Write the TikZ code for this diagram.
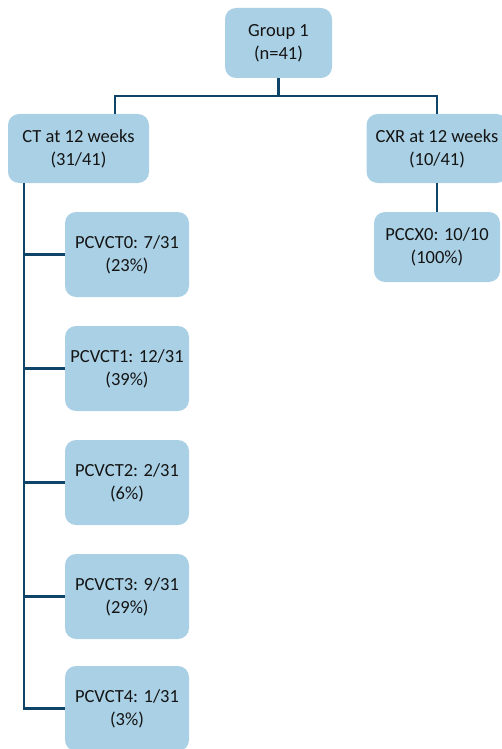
\documentclass[tikz,border=0pt]{standalone}
\usepackage{fontspec}
\setmainfont{Carlito}
\definecolor{boxfill}{HTML}{A9D0E4}
\definecolor{linec}{HTML}{0D4467}
\definecolor{txt}{HTML}{141414}
\begin{document}
\begin{tikzpicture}[x=1pt,y=1pt,
  box/.style={draw=none,fill=boxfill,rounded corners=11pt,align=center,
    text=txt,font=\fontsize{18.5}{23}\selectfont,inner sep=0pt},
  conn/.style={draw=linec,line width=2.6pt}]
\useasboundingbox (0,0) rectangle (502,-749);
\node[box,minimum width=107pt,minimum height=70pt] (g) at (278.5,-43) {Group 1\\(n=41)};
\node[box,minimum width=141pt,minimum height=69pt] (ct) at (78.5,-148.5) {CT at 12 weeks\\(31/41)};
\node[box,minimum width=141pt,minimum height=69pt] (cxr) at (437,-148.5) {CXR at 12 weeks\\(10/41)};
\node[box,minimum width=126pt,minimum height=70pt] (px) at (437,-247) {PCCX0: 10/10\\(100\%)};
\node[box,minimum width=124pt,minimum height=85pt] (p0) at (127,-254.5) {PCVCT0: 7/31\\(23\%)};
\node[box,minimum width=124pt,minimum height=85pt] (p1) at (127,-368.5) {PCVCT1: 12/31\\(39\%)};
\node[box,minimum width=124pt,minimum height=85pt] (p2) at (127,-482.5) {PCVCT2: 2/31\\(6\%)};
\node[box,minimum width=124pt,minimum height=85pt] (p3) at (127,-596.5) {PCVCT3: 9/31\\(29\%)};
\node[box,minimum width=124pt,minimum height=85pt] (p4) at (127,-708.5) {PCVCT4: 1/31\\(3\%)};
\coordinate (busL) at (115,-96);
\coordinate (trunk) at (24,0);
\draw[conn] (g.south) -- (g.south |- busL);
\draw[conn] (busL |- ct.north) -- (busL) -- (busL -| cxr.north) -- (cxr.north);
\draw[conn] (cxr.south) -- (px.north);
\draw[conn] (ct.south -| trunk) -- (p4.west -| trunk) -- (p4.west);
\foreach \p in {p0,p1,p2,p3} \draw[conn] (\p.west -| trunk) -- (\p.west);
\end{tikzpicture}
\end{document}
